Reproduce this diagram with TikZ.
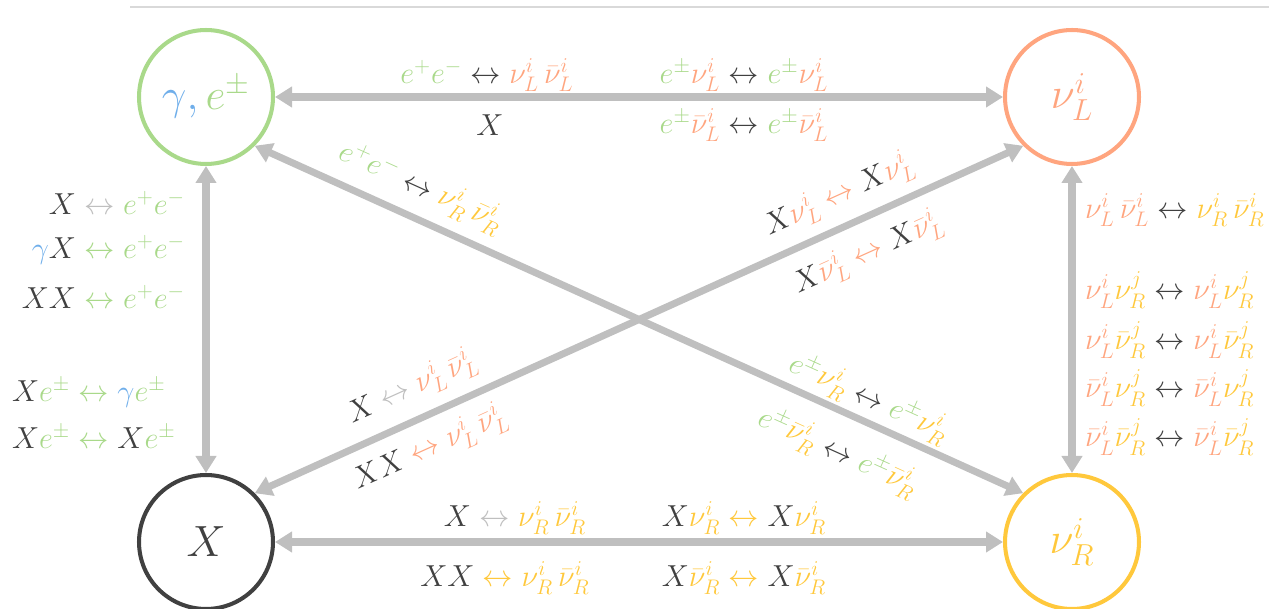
\documentclass[tikz,border=0pt]{standalone}
\usepackage{amsmath}
\usepackage{tikz}
\usetikzlibrary{arrows.meta}
\usepackage{xcolor}

\definecolor{cgreen}{HTML}{A9D98A}
\definecolor{cblue}{HTML}{6FAEEA}
\definecolor{csal}{HTML}{FFA57F}
\definecolor{cyel}{HTML}{FFC83C}
\definecolor{cdark}{HTML}{404040}
\definecolor{carr}{HTML}{BFBFBF}

\newcommand{\nL}{{\color{csal}\nu_L^i}}
\newcommand{\nLb}{{\color{csal}\bar\nu_L^i}}
\newcommand{\nR}[1][i]{{\color{cyel}\nu_R^{#1}}}
\newcommand{\nRb}[1][i]{{\color{cyel}\bar\nu_R^{#1}}}
\newcommand{\ee}{{\color{cgreen}e^+e^-}}
\newcommand{\epm}{{\color{cgreen}e^\pm}}
\newcommand{\xx}{{\color{cdark}X}}
\newcommand{\gmm}{{\color{cblue}\gamma}}
\newcommand{\lr}[1]{\mathrel{\textcolor{#1}{\leftrightarrow}}}

\begin{document}
\begin{tikzpicture}[x=0.02cm, y=0.02cm,
  state/.style={circle, draw, line width=2.3pt, minimum size=2.68cm, inner sep=0pt,
    font=\fontsize{24}{28}\selectfont},
  arr/.style={draw=carr, line width=4pt,
    arrows={Triangle[length=0.34cm,width=0.4cm]-Triangle[length=0.34cm,width=0.4cm]}},
  lab/.style={font=\fontsize{17}{20}\selectfont, inner sep=1pt}]
  \useasboundingbox (0,0) rectangle (1269,609);
  % Top rule
  \draw[black!15, line width=0.6pt] (130,602) -- (1269,602);
  % States
  \node[state, draw=cgreen] (gam) at (206,512) {$\gmm{\color{cblue},}\,\epm$};
  \node[state, draw=csal] (nuL) at (1072,512) {$\nL$};
  \node[state, draw=cdark] (X) at (206,67) {$\xx$};
  \node[state, draw=cyel] (nuR) at (1072,67) {$\nR$};
  % Arrows
  \draw[arr] (gam) -- (nuL);
  \draw[arr] (gam) -- (X);
  \draw[arr] (nuL) -- (nuR);
  \draw[arr] (X) -- (nuR);
  \draw[arr] (gam.-45) -- (nuR.135);
  \draw[arr] (X.45) -- (nuL.-135);
  % Top labels
  \node[lab] (t1) at (487,534) {$\ee \lr{cdark} \nL\,\nLb$};
  \node[lab] (t2) at (490,484) {$\xx$};
  \node[lab] (t3) at (744,534) {$\epm\nL \lr{cdark} \epm\nL$};
  \node[lab] (t4) at (744,484) {$\epm\nLb \lr{cdark} \epm\nLb$};
  % Left labels
  \node[lab, anchor=east] (l1) at (187,406) {$\xx \lr{carr} \ee$};
  \node[lab, anchor=east] (l2) at (187,359) {$\gmm\xx \lr{cgreen} \ee$};
  \node[lab, anchor=east] (l3) at (187,312) {$\xx\xx \lr{cgreen} \ee$};
  \node[lab, anchor=west] (l4) at (10,216) {$\xx\epm \lr{cgreen} \gmm\epm$};
  \node[lab, anchor=west] (l5) at (10,172) {$\xx\epm \lr{cgreen} \xx\epm$};
  % Right labels
  \node[lab, anchor=west] (r1) at (1083,399) {$\nL\,\nLb \lr{cdark} \nR\,\nRb$};
  \foreach \y/\a [count=\k from 2] in {319/{\nL\nR[j]}, 269/{\nL\nRb[j]},
                                      221/{\nLb\nR[j]}, 172/{\nLb\nRb[j]}}
    \node[lab, anchor=west] (r\k) at (1083,\y) {$\a \lr{cdark} \a$};
  % Bottom labels
  \node[lab] (b1) at (515,91) {$\xx \lr{carr} \nR\,\nRb$};
  \node[lab] (b2) at (505,31) {$\xx\xx \lr{cyel} \nR\,\nRb$};
  \node[lab] (b3) at (744,91) {$\xx\nR \lr{cyel} \xx\nR$};
  \node[lab] (b4) at (744,31) {$\xx\nRb \lr{cyel} \xx\nRb$};
  % Diagonal labels
  \node[lab, rotate=-24.3] (d1) at (421,422) {$\ee \lr{cdark} \nR\,\nRb$};
  \node[lab, rotate=-24.3] (d2) at (869,211) {$\epm\nR \lr{cdark} \epm\nR$};
  \node[lab, rotate=-24.3] (d3) at (838,157) {$\epm\nRb \lr{cdark} \epm\nRb$};
  \node[lab, rotate=24.3] (d4) at (839,414) {$\xx\nL \lr{csal} \xx\nL$};
  \node[lab, rotate=24.3] (d5) at (868,356) {$\xx\nLb \lr{csal} \xx\nLb$};
  \node[lab, rotate=24.3] (d6) at (412,222) {$\xx \lr{carr} \nL\,\nLb$};
  \node[lab, rotate=24.3] (d7) at (430,161) {$\xx\xx \lr{csal} \nL\,\nLb$};
\end{tikzpicture}
\end{document}
